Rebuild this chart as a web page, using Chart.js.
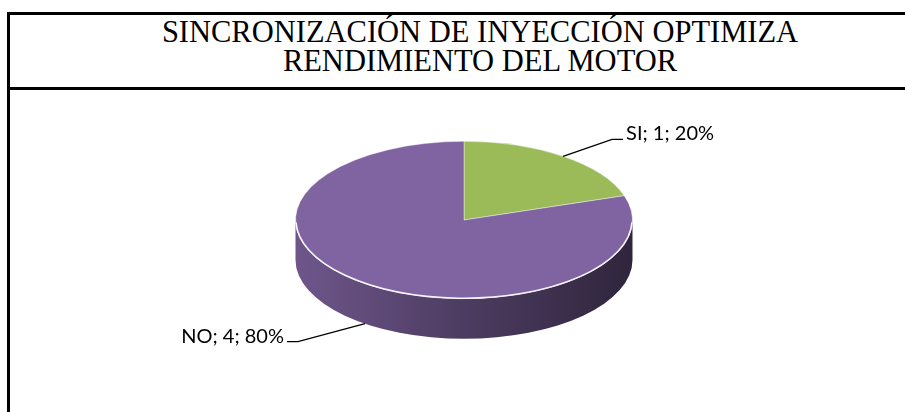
<!DOCTYPE html>
<html>
<head>
<meta charset="utf-8">
<script src="https://cdn.jsdelivr.net/npm/chart.js@4/dist/chart.umd.min.js"></script>
<style>
  html, body { margin: 0; padding: 0; background: #fff; overflow: hidden; }
  #frame {
    position: absolute; left: 7px; top: 12px; width: 940px; height: 420px;
    border-left: 3px solid #000; border-top: 3px solid #000;
  }
  #title {
    height: 69px; padding-top: 3px; border-bottom: 3px solid #000;
    font-family: 'Liberation Serif', 'Times New Roman', serif;
    font-size: 30.5px; line-height: 29px; text-align: center; color: #000;
  }
  #wrap { position: absolute; left: 0; top: 0; width: 905px; height: 412px; }
</style>
</head>
<body>
<div id="frame">
  <div id="title">SINCRONIZACIÓN DE INYECCIÓN OPTIMIZA<br>RENDIMIENTO DEL MOTOR</div>
</div>
<div id="wrap"><canvas id="pie_canvas" width="905" height="412"></canvas></div>
<script>
// datos de la encuesta
const categorias = ['SI', 'NO'];
const respuestas = [1, 4];
const colores = ['#9BBB59', '#8064A2'];

const total = respuestas.reduce((a, b) => a + b, 0);

const TILT = 0.467;   // aplastamiento vertical (vista 3D)
const DEPTH = 40;     // grosor del pastel

function shade(hex, f) {
    const n = parseInt(hex.slice(1), 16);
    const r = Math.round(((n >> 16) & 255) * f);
    const g = Math.round(((n >> 8) & 255) * f);
    const b = Math.round((n & 255) * f);
    return `rgb(${r}, ${g}, ${b})`;
}

// dibuja el costado del pastel y aplasta el disco
const pie3d = {
    id: 'pie3d',
    beforeDatasetsDraw(chart) {
        const ctx = chart.ctx;
        const arcs = chart.getDatasetMeta(0).data;
        const cx = arcs[0].x, cy = arcs[0].y, R = arcs[0].outerRadius;
        const ry = R * TILT;

        arcs.forEach((arc, i) => {
            const color = colores[i];
            [-2 * Math.PI, 0, 2 * Math.PI].forEach(off => {
                const a = Math.max(arc.startAngle + off, 0);
                const b = Math.min(arc.endAngle + off, Math.PI);
                if (b <= a) return;
                const grad = ctx.createLinearGradient(cx - R, 0, cx + R, 0);
                grad.addColorStop(0, shade(color, 0.86));
                grad.addColorStop(0.5, shade(color, 0.6));
                grad.addColorStop(1, shade(color, 0.37));
                ctx.beginPath();
                ctx.ellipse(cx, cy, R, ry, 0, a, b);
                ctx.ellipse(cx, cy + DEPTH, R, ry, 0, b, a, true);
                ctx.closePath();
                ctx.fillStyle = grad;
                ctx.fill();
            });
        });

        ctx.save();
        ctx.translate(cx, cy);
        ctx.scale(1, TILT);
        ctx.translate(-cx, -cy);
    },
    afterDatasetsDraw(chart) {
        const ctx = chart.ctx;
        ctx.restore();

        const arcs = chart.getDatasetMeta(0).data;
        const cx = arcs[0].x, cy = arcs[0].y, R = arcs[0].outerRadius;
        const ry = R * TILT;

        // brillo del borde frontal
        ctx.save();
        ctx.beginPath();
        ctx.ellipse(cx, cy, R - 0.5, ry - 0.5, 0, 0.03, Math.PI - 0.03);
        ctx.strokeStyle = 'rgba(255,255,255,0.9)';
        ctx.lineWidth = 1.5;
        ctx.stroke();
        ctx.restore();

        // etiquetas: categoria; valor; porcentaje
        ctx.save();
        ctx.font = '20px Lato';
        ctx.fillStyle = '#000';
        ctx.strokeStyle = '#000';
        ctx.lineWidth = 1.3;
        ctx.textBaseline = 'middle';
        arcs.forEach((arc, i) => {
            const mid = (arc.startAngle + arc.endAngle) / 2;
            const c = Math.cos(mid), s = Math.sin(mid);
            const ax = cx + R * c;
            const ay = cy + ry * s + (s > 0 ? DEPTH : 0);
            const right = c >= 0;
            const ex = right ? ax + 49 : ax - 67;
            const ey = right ? ay - 17 : ay + 18;
            const tx = right ? ex + 11 : ex - 11;
            ctx.beginPath();
            ctx.moveTo(ax, ay);
            ctx.lineTo(ex, ey);
            ctx.lineTo(tx, ey);
            ctx.stroke();
            const pct = Math.round(respuestas[i] / total * 100);
            const txt = `${categorias[i]}; ${respuestas[i]}; ${pct}%`;
            ctx.textAlign = right ? 'left' : 'right';
            ctx.fillText(txt, right ? tx + 3 : tx - 3, right ? ey - 6 : ey - 5);
        });
        ctx.restore();
    }
};

const ctx = document.getElementById('pie_canvas');

const pieChart = new Chart(ctx, {
    type: 'pie',
    data: {
        labels: categorias,
        datasets: [{
            data: respuestas,
            backgroundColor: colores,
            borderColor: 'rgba(255,255,255,0.55)',
            borderWidth: 1
        }]
    },
    options: {
        responsive: false,
        animation: false,
        layout: {
            padding: { top: 51, bottom: 23, left: 164, right: 141 }
        },
        plugins: {
            legend: { display: false },
            tooltip: { enabled: false },
            title: { display: false }
        }
    },
    plugins: [pie3d]
});
</script>
</body>
</html>
